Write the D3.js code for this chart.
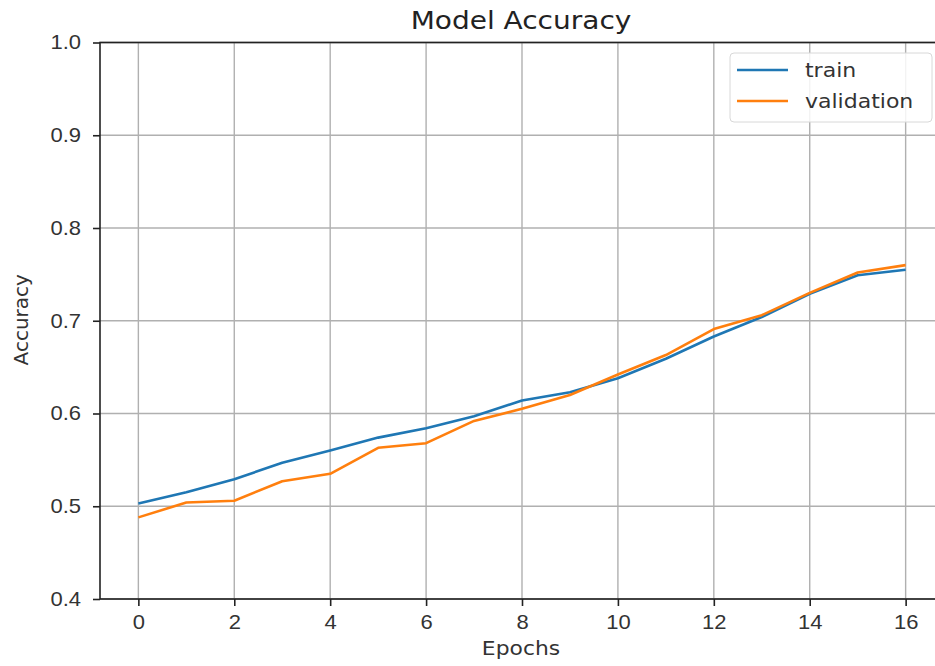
<!DOCTYPE html>
<html lang="en">
<head>
<meta charset="utf-8">
<title>Model Accuracy</title>
<style>
    body { margin: 0; background: #fff; }
    svg { display: block; font-family: "DejaVu Sans", sans-serif; }
    .grid line { stroke: #b0b0b0; stroke-width: 1.4px; }
    .axis path, .axis line { stroke: #222; stroke-width: 1.6px; }
    .axis text { font-size: 20px; fill: #333; }
</style>
</head>
<body>
<script src="https://cdn.jsdelivr.net/npm/d3@7"></script>
<script>
    // values
    var epochs = [0, 1, 2, 3, 4, 5, 6, 7, 8, 9, 10, 11, 12, 13, 14, 15, 16];
    var trainAcc = [0.503, 0.515, 0.529, 0.547, 0.560, 0.574, 0.584, 0.597, 0.614, 0.623, 0.638, 0.659, 0.683, 0.704, 0.729, 0.749, 0.755];
    var valAcc = [0.488, 0.504, 0.506, 0.527, 0.535, 0.563, 0.568, 0.592, 0.605, 0.620, 0.642, 0.663, 0.691, 0.706, 0.730, 0.752, 0.760];
    var xTicks = [0, 2, 4, 6, 8, 10, 12, 14, 16];
    var yTicks = [0.4, 0.5, 0.6, 0.7, 0.8, 0.9, 1.0];
    var seriesNames = ["train", "validation"];
    var seriesColors = ["#1f77b4", "#ff7f0e"];

    var W = 935, H = 666;
    var margin = {top: 42.5, right: -9, bottom: 67, left: 100};
    var width = W - margin.left - margin.right,
        height = H - margin.top - margin.bottom;
    var stretch = "scale(1.1,1)";   // the picture's text is a bit wide

    var svg = d3.select("body").append("svg")
        .attr("width", W)
        .attr("height", H);

    var g = svg.append("g")
        .attr("transform", "translate(" + margin.left + "," + margin.top + ")");

    var x = d3.scaleLinear().domain([-0.8, 16.8]).range([0, width]);
    var y = d3.scaleLinear().domain([0.4, 1.0]).range([height, 0]);

    // grid
    var grid = g.append("g").attr("class", "grid");
    grid.selectAll(".vx").data(xTicks).enter().append("line")
        .attr("x1", function(d) { return x(d); })
        .attr("x2", function(d) { return x(d); })
        .attr("y1", 0).attr("y2", height);
    grid.selectAll(".hy").data(yTicks).enter().append("line")
        .attr("y1", function(d) { return y(d); })
        .attr("y2", function(d) { return y(d); })
        .attr("x1", 0).attr("x2", width);

    // lines
    var series = [trainAcc, valAcc];
    var line = d3.line()
        .x(function(d, i) { return x(epochs[i]); })
        .y(function(d) { return y(d); });
    series.forEach(function(s, k) {
        g.append("path")
            .datum(s)
            .attr("fill", "none")
            .attr("stroke", seriesColors[k])
            .attr("stroke-width", 2.6)
            .attr("stroke-linejoin", "round")
            .attr("d", line);
    });

    // spines
    g.append("rect")
        .attr("width", width).attr("height", height)
        .attr("fill", "none").attr("stroke", "#222").attr("stroke-width", 1.6);

    // axes
    g.append("g").attr("class", "axis")
        .attr("transform", "translate(0," + height + ")")
        .call(d3.axisBottom(x).tickValues(xTicks).tickSize(7).tickPadding(9).tickFormat(d3.format("d")))
        .call(function(a) {
            a.select(".domain").remove();
            a.selectAll("text").attr("transform", stretch);
        });
    g.append("g").attr("class", "axis")
        .call(d3.axisLeft(y).tickValues(yTicks).tickSize(7).tickPadding(10.3).tickFormat(d3.format(".1f")))
        .call(function(a) {
            a.select(".domain").remove();
            a.selectAll("text").attr("transform", stretch);
        });

    // title and labels
    svg.append("text")
        .attr("transform", "translate(521,29) scale(1.12,1)")
        .attr("text-anchor", "middle")
        .style("font-size", "25px").style("fill", "#222")
        .text("Model Accuracy");
    svg.append("text")
        .attr("transform", "translate(521,655) scale(1.15,1)")
        .attr("text-anchor", "middle")
        .style("font-size", "19px").style("fill", "#333")
        .text("Epochs");
    svg.append("text")
        .attr("transform", "translate(28," + (margin.top + height / 2 - 1) + ") rotate(-90)")
        .attr("text-anchor", "middle")
        .style("font-size", "20px").style("fill", "#333")
        .text("Accuracy");

    // legend
    var lg = svg.append("g").attr("transform", "translate(730,53)");
    lg.append("rect")
        .attr("width", 202).attr("height", 69).attr("rx", 4)
        .attr("fill", "#fff").attr("fill-opacity", 0.85)
        .attr("stroke", "#d8d8d8");
    seriesNames.forEach(function(name, k) {
        var yy = 17 + k * 31;
        lg.append("line")
            .attr("x1", 7).attr("x2", 58).attr("y1", yy).attr("y2", yy)
            .attr("stroke", seriesColors[k]).attr("stroke-width", 2.6);
        lg.append("text")
            .attr("transform", "translate(75," + (yy + 7) + ") " + stretch)
            .style("font-size", "20px").style("fill", "#333")
            .text(name);
    });
</script>
</body>
</html>
